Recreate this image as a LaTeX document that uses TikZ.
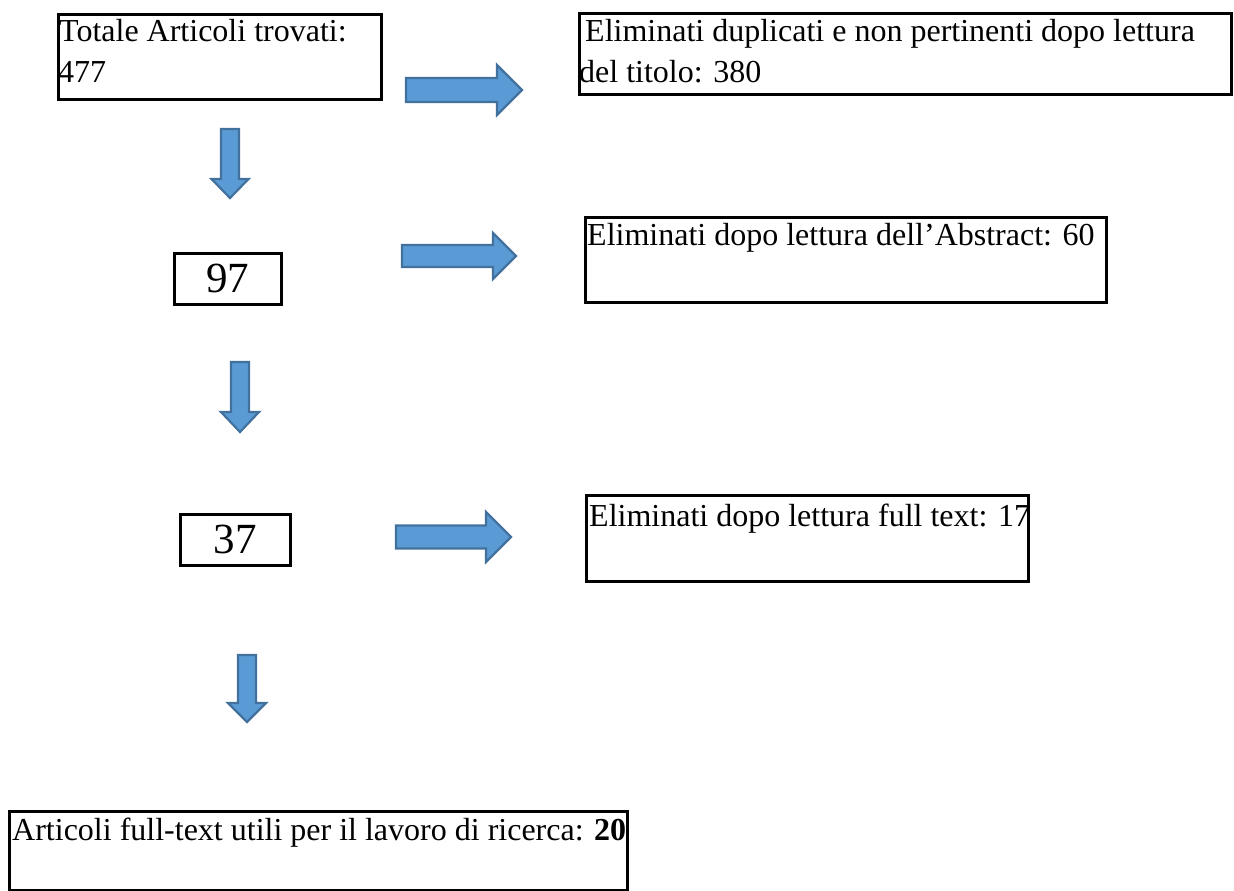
\documentclass[tikz,border=0pt]{standalone}
\usepackage{fontspec}
\setmainfont{Liberation Serif}
\definecolor{arrfill}{HTML}{5B9BD5}
\definecolor{arrdraw}{HTML}{41719C}
\tikzset{
  box/.style={draw=black, line width=2.6pt, inner sep=0pt, anchor=north west},
  txt/.style={inner sep=0pt, anchor=base west, font=\fontsize{32}{38}\selectfont},
  num/.style={inner sep=0pt, font=\fontsize{43}{50}\selectfont},
  blockarrow/.style={fill=arrfill, draw=arrdraw, line width=2.2pt, line join=miter},
}
% right block arrow: x0 shaft left, x1 head base, x2 tip, yc centre, hs half shaft, hh half head
\newcommand\myrarrow[6]{%
  \draw[blockarrow] ({#1},{#4-#5}) -- ({#2},{#4-#5}) -- ({#2},{#4-#6}) -- ({#3},{#4})
    -- ({#2},{#4+#6}) -- ({#2},{#4+#5}) -- ({#1},{#4+#5}) -- cycle;}
% down block arrow: xc centre, y0 shaft top, y1 head base, y2 tip, hs half shaft, hh half head
\newcommand\mydarrow[6]{%
  \draw[blockarrow] ({#1-#5},{#2}) -- ({#1+#5},{#2}) -- ({#1+#5},{#3}) -- ({#1+#6},{#3})
    -- ({#1},{#4}) -- ({#1-#6},{#3}) -- ({#1-#5},{#3}) -- cycle;}
\begin{document}
\begin{tikzpicture}[x=1pt, y=-1pt]
\useasboundingbox (0,0) rectangle (1234,891);

% boxes
\node[box, minimum width=323pt, minimum height=85pt] (b1) at (57,13) {};
\node[box, minimum width=652pt, minimum height=81pt] (b2) at (578,12) {};
\node[box, minimum width=107pt, minimum height=51pt] (b97) at (173,252) {};
\node[box, minimum width=521pt, minimum height=85pt] (b3) at (584,216) {};
\node[box, minimum width=110pt, minimum height=51pt] (b37) at (179,513) {};
\node[box, minimum width=442pt, minimum height=86pt] (b4) at (585,494) {};
\node[box, minimum width=618pt, minimum height=79pt] (b5) at (8,810) {};

% texts
\node[txt] (t1a) at (59,41.7) {Totale Articoli trovati:};
\node[txt] (t1b) at (58,82) {477};
\node[txt] (t2a) at (585,42) {Eliminati duplicati e non pertinenti dopo lettura};
\node[txt] (t2b) at (579,82) {del titolo: 380};
\node[num] (t97) at (b97.center) {97};
\node[txt] (t3) at (587,245) {Eliminati dopo lettura dell’Abstract: 60};
\node[num] (t37) at (b37.center) {37};
\node[txt] (t4) at (589,526) {Eliminati dopo lettura full text: 17};
\node[txt] (t5) at (12,840) {Articoli full-text utili per il lavoro di ricerca: \textbf{20}};

% block arrows
\myrarrow{406}{497}{522}{90}{12}{25}
\myrarrow{402}{493}{516}{256}{11}{23}
\myrarrow{396}{486}{511}{537}{11.5}{25}
\mydarrow{230}{129}{179}{198}{9}{18.5}
\mydarrow{240}{362}{412}{432}{9}{19}
\mydarrow{247}{655}{703}{722}{9}{19}
\end{tikzpicture}
\end{document}
